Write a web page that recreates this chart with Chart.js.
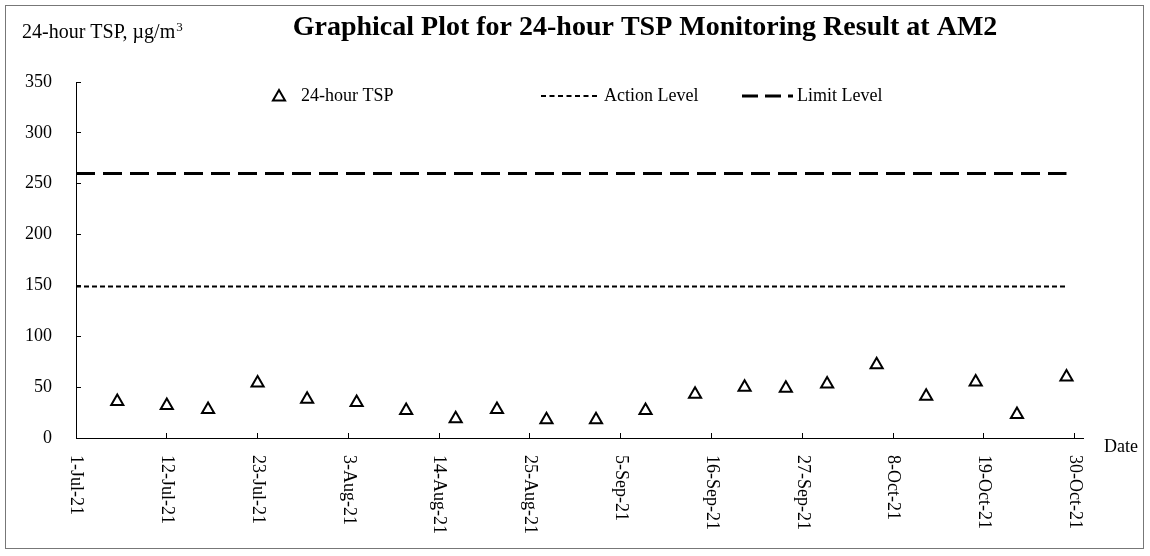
<!DOCTYPE html>
<html lang="en">
<head>
    <meta charset="UTF-8">
    <title>Graphical Plot for 24-hour TSP Monitoring Result at AM2</title>
    <style>
        body {
            margin: 0;
            background-color: #fff;
        }

        #chart-container {
            width: 1150px;
            height: 556px;
        }
    </style>
</head>
<body>
    <div id="chart-container">
        <canvas id="tsp-chart"></canvas>
    </div>
    <script src="https://cdn.jsdelivr.net/npm/chart.js"></script>
    <script>
    const chartTitle = 'Graphical Plot for 24-hour TSP Monitoring Result at AM2';
    const yAxisTitle = '24-hour TSP, \u00b5g/m';
    const xAxisTitle = 'Date';

    const sampleDates = ['6-Jul-21', '12-Jul-21', '17-Jul-21', '23-Jul-21', '29-Jul-21', '4-Aug-21', '10-Aug-21',
        '16-Aug-21', '21-Aug-21', '27-Aug-21', '2-Sep-21', '8-Sep-21', '14-Sep-21', '20-Sep-21', '25-Sep-21',
        '30-Sep-21', '6-Oct-21', '12-Oct-21', '18-Oct-21', '23-Oct-21', '29-Oct-21'];
    const tspValues = [36, 32, 28, 54, 38, 35, 27, 19, 28, 18, 18, 27, 43, 50, 49, 53, 72, 41, 55, 23, 60];

    const levelDates = ['1-Jul-21', '29-Oct-21'];
    const actionLevel = [149, 149];
    const limitLevel = [260, 260];

    const xTickLabels = ['1-Jul-21', '12-Jul-21', '23-Jul-21', '3-Aug-21', '14-Aug-21', '25-Aug-21', '5-Sep-21',
        '16-Sep-21', '27-Sep-21', '8-Oct-21', '19-Oct-21', '30-Oct-21'];
    const xEnd = '31-Oct-21';

    const monthIndex = { Jul: 6, Aug: 7, Sep: 8, Oct: 9 };
    const dayZero = Date.UTC(2021, 6, 1);

    // days since 1-Jul-21, used as the linear x value
    function dayNum(label) {
        const parts = label.split('-');
        return (Date.UTC(2000 + Number(parts[2]), monthIndex[parts[1]], Number(parts[0])) - dayZero) / 864e5;
    }

    function toPoints(dates, values) {
        return dates.map((d, i) => ({ x: dayNum(d), y: values[i] }));
    }

    const serif = "'Liberation Serif', 'Times New Roman', serif";

    function drawTriangle(ctx, x, y, r) {
        ctx.beginPath();
        ctx.moveTo(x, y - r);
        ctx.lineTo(x + r * 0.866, y + r * 0.5);
        ctx.lineTo(x - r * 0.866, y + r * 0.5);
        ctx.closePath();
        ctx.stroke();
    }

    const decorPlugin = {
        id: 'decor',
        beforeDraw(chart) {
            const ctx = chart.ctx;
            ctx.save();
            ctx.fillStyle = '#fff';
            ctx.fillRect(0, 0, chart.width, chart.height);
            ctx.strokeStyle = '#777';
            ctx.lineWidth = 1;
            ctx.strokeRect(5.5, 5.5, chart.width - 12, chart.height - 13);
            ctx.restore();
        },
        afterDraw(chart) {
            const ctx = chart.ctx;
            const xScale = chart.scales.x;
            const area = chart.chartArea;
            ctx.save();
            ctx.fillStyle = '#000';
            ctx.strokeStyle = '#000';

            // title
            ctx.font = 'bold 28px ' + serif;
            ctx.textAlign = 'center';
            ctx.textBaseline = 'middle';
            ctx.fillText(chartTitle, 645, 28);

            // y axis title, written level above the axis
            ctx.font = '20px ' + serif;
            ctx.textAlign = 'left';
            ctx.textBaseline = 'alphabetic';
            ctx.fillText(yAxisTitle, 22, 38);
            const w = ctx.measureText(yAxisTitle).width;
            ctx.font = '13px ' + serif;
            ctx.fillText('3', 22 + w + 1, 31);

            // x axis title
            ctx.font = '18px ' + serif;
            ctx.textBaseline = 'middle';
            ctx.fillText(xAxisTitle, area.right + 21, area.bottom + 9);

            // x tick labels, rotated clockwise
            xScale.ticks.forEach((t, i) => {
                const px = xScale.getPixelForValue(t.value);
                ctx.save();
                ctx.translate(px, area.bottom + 17);
                ctx.rotate(Math.PI / 2);
                ctx.textAlign = 'left';
                ctx.textBaseline = 'middle';
                ctx.fillText(xTickLabels[i], 0, 0);
                ctx.restore();
            });

            // legend inside the plot area
            const slots = [[279, 301], [541, 604], [742, 797]];
            const ly = 96;
            chart.data.datasets.forEach((ds, i) => {
                const [sx, tx] = slots[i];
                ctx.lineWidth = ds.borderWidth;
                if (ds.showLine === false) {
                    drawTriangle(ctx, sx, ly + 1, ds.pointRadius);
                } else {
                    ctx.setLineDash(ds.legendDash);
                    ctx.beginPath();
                    ctx.moveTo(sx, ly);
                    ctx.lineTo(tx - 4, ly);
                    ctx.stroke();
                    ctx.setLineDash([]);
                }
                ctx.font = '18px ' + serif;
                ctx.textAlign = 'left';
                ctx.textBaseline = 'middle';
                ctx.fillText(ds.label, tx, ly);
            });
            ctx.restore();
        }
    };

    const ctx = document.getElementById('tsp-chart').getContext('2d');
    const tspChart = new Chart(ctx, {
        type: 'scatter',
        data: {
            datasets: [
                {
                    label: '24-hour TSP',
                    data: toPoints(sampleDates, tspValues),
                    showLine: false,
                    pointStyle: 'triangle',
                    pointRadius: 7,
                    pointBorderWidth: 2,
                    borderWidth: 2,
                    borderColor: '#000',
                    backgroundColor: 'rgba(0,0,0,0)'
                },
                {
                    label: 'Action Level',
                    data: toPoints(levelDates, actionLevel),
                    showLine: true,
                    pointRadius: 0,
                    borderColor: '#000',
                    borderWidth: 2,
                    borderDash: [5, 3],
                    legendDash: [5, 3.5]
                },
                {
                    label: 'Limit Level',
                    data: toPoints(levelDates, limitLevel),
                    showLine: true,
                    pointRadius: 0,
                    borderColor: '#000',
                    borderWidth: 3,
                    borderDash: [19, 8],
                    legendDash: [16, 7]
                }
            ]
        },
        options: {
            responsive: true,
            maintainAspectRatio: false,
            animation: false,
            layout: {
                padding: { top: 82, right: 67, left: 0, bottom: 0 }
            },
            plugins: {
                legend: { display: false },
                title: { display: false },
                tooltip: { enabled: false }
            },
            scales: {
                x: {
                    type: 'linear',
                    min: 0,
                    max: dayNum(xEnd),
                    afterBuildTicks: scale => {
                        scale.ticks = xTickLabels.map(l => ({ value: dayNum(l) }));
                    },
                    afterFit: scale => { scale.height = 118; },
                    ticks: { display: false },
                    grid: {
                        drawOnChartArea: false,
                        drawTicks: true,
                        tickLength: -5,
                        color: '#000'
                    },
                    border: { color: '#000', width: 1 }
                },
                y: {
                    min: 0,
                    max: 350,
                    afterFit: scale => { scale.width = 76; },
                    ticks: {
                        stepSize: 50,
                        padding: 29,
                        color: '#000',
                        font: { family: serif, size: 18 }
                    },
                    grid: {
                        drawOnChartArea: false,
                        drawTicks: true,
                        tickLength: -5,
                        color: '#000'
                    },
                    border: { color: '#000', width: 1 }
                }
            }
        },
        plugins: [decorPlugin]
    });
    </script>
</body>
</html>
